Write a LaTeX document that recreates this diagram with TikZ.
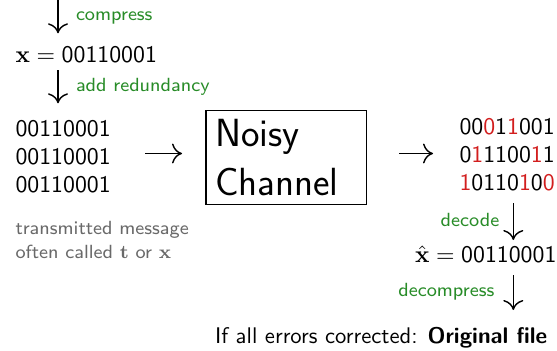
\documentclass[tikz,border=0pt]{standalone}
\usetikzlibrary{arrows.meta}
\renewcommand{\familydefault}{\sfdefault}
\definecolor{lblgreen}{RGB}{40,140,40}
\definecolor{errred}{RGB}{210,30,30}
\definecolor{notegray}{RGB}{105,105,105}
\newcommand{\er}[1]{\textcolor{errred}{#1}}
\tikzset{
  txt/.style={anchor=base west, inner sep=0pt, outer sep=0pt, font=\fontsize{10}{12}\selectfont},
  lbl/.style={anchor=base west, inner sep=0pt, outer sep=0pt, text=lblgreen, font=\fontsize{8}{9.5}\selectfont},
  note/.style={anchor=base west, inner sep=0pt, outer sep=0pt, text=notegray, font=\fontsize{8}{9.5}\selectfont},
  arr/.style={line width=0.6pt, -{Computer Modern Rightarrow[length=4.2pt,width=8.4pt]}},
  chbox/.style={draw, line width=0.5pt, align=left, inner xsep=3.8pt, inner ysep=0pt,
    text width=59.9pt, minimum height=39.5pt, font=\fontsize{16.5}{20.6}\selectfont}
}
\begin{document}
\begin{tikzpicture}[x=0.42pt, y=-0.42pt]
\useasboundingbox (0,0) rectangle (557,350);
% top: compress
\coordinate (c0) at (58,0);
\node[lbl] (compress) at (76,20) {compress};
\node[txt] (x) at (15.5,62.5) {$\mathbf{x}=\mbox{00110001}$};
\coordinate (c0e) at (58,33.3);
\draw[arr] (c0) -- (c0e);
% add redundancy
\coordinate (c1) at (58,70);
\coordinate (c1e) at (58,103.3);
\draw[arr] (c1) -- (c1e);
\node[lbl] (addr) at (76,91.7) {add redundancy};
% transmitted
\node[txt] (s1) at (15.5,136) {00110001};
\node[txt] (s2) at (15.5,164.3) {00110001};
\node[txt] (s3) at (15.5,192.3) {00110001};
\node[note] (n1) at (15.5,234) {transmitted message};
\node[note] (n2) at (15.5,258) {often called $\mathbf{t}$ or $\mathbf{x}$};
% channel
\node[chbox] (ch) at (286.35,157.7) {Noisy\\Channel};
\coordinate (l0) at (145,153.5);
\coordinate (l1) at (182,153.5);
\draw[arr] (l0) -- (l1);
\coordinate (r0) at (399,153.5);
\coordinate (r1) at (433,153.5);
\draw[arr] (r0) -- (r1);
% received
\node[txt] (r1t) at (459.5,134.3) {00\er{0}1\er{1}001};
\node[txt] (r2t) at (459.5,162.3) {0\er{1}1100\er{1}1};
\node[txt] (r3t) at (459.5,190) {\er{1}0110\er{1}0\er{0}};
% decode
\node[lbl] (dec) at (440.7,226.7) {decode};
\coordinate (d0) at (513.3,203);
\coordinate (d1) at (513.3,240);
\draw[arr] (d0) -- (d1);
\node[txt] (xh) at (415,262.7) {$\hat{\mathbf{x}}=\mbox{00110001}$};
% decompress
\node[lbl] (decomp) at (398.3,296.7) {decompress};
\coordinate (e0) at (513.3,275);
\coordinate (e1) at (513.3,310);
\draw[arr] (e0) -- (e1);
\node[txt, font=\fontsize{9.5}{11.5}\selectfont] (fin) at (215,343.3) {If all errors corrected: \textbf{Original file}};
\end{tikzpicture}
\end{document}
